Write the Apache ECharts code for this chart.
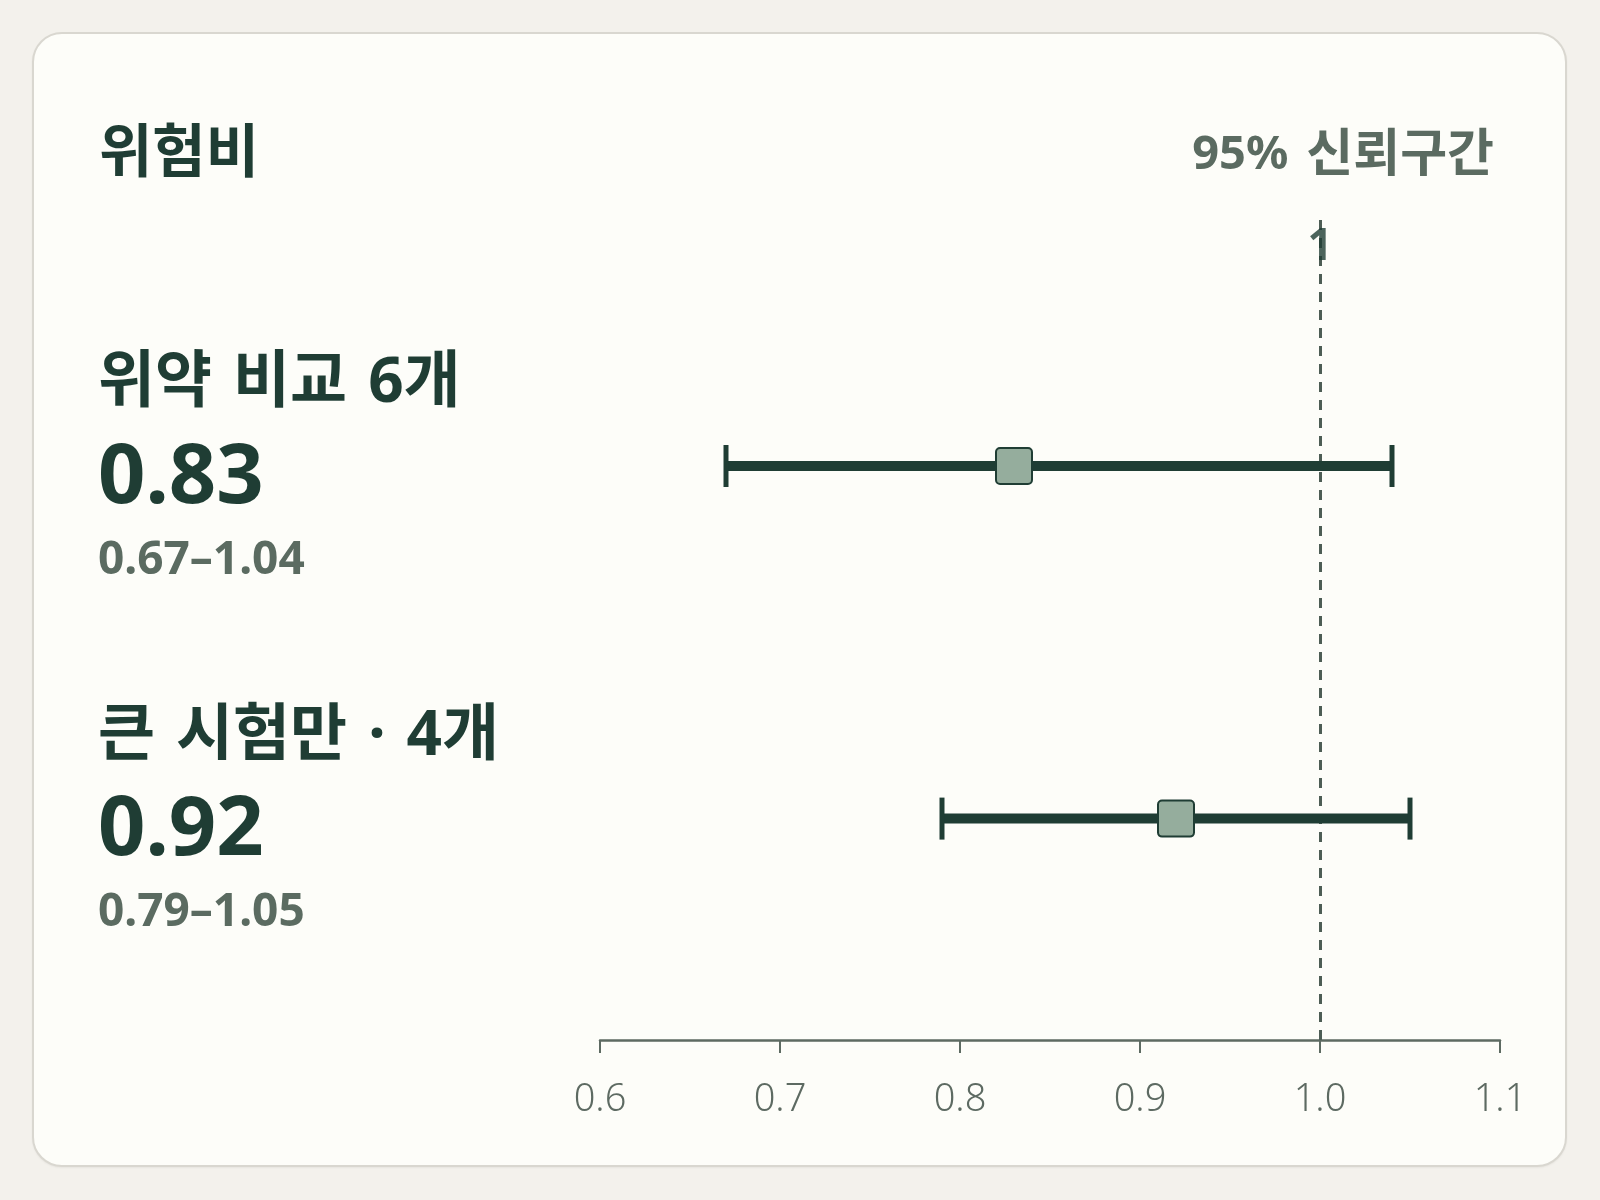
<!DOCTYPE html>
<html>
<head>
<meta charset="utf-8">
<script src="https://cdn.jsdelivr.net/npm/echarts@6/dist/echarts.min.js"></script>
<style>
  html, body { margin: 0; padding: 0; background: #f3f1ec; }
  #card { position: absolute; left: 32px; top: 32px; width: 1535px; height: 1135px; box-sizing: border-box;
          border: 2px solid #d9d7d0; border-radius: 30px; background: #fdfdf9; box-shadow: 0 1px 2px rgba(0,0,0,0.05); }
  #chart { position: absolute; left: 0; top: 0; width: 1600px; height: 1200px; }
</style>
</head>
<body>
<div id="card"></div>
<div id="chart"></div>
<script>
// ---- data ----
const rowLabels = ['위약 비교 6개', '큰 시험만 · 4개'];
const hazardRatio = [0.83, 0.92];
const ciLow = [0.67, 0.79];
const ciHigh = [1.04, 1.05];
const xTickValues = [0.6, 0.7, 0.8, 0.9, 1.0, 1.1];
const referenceValue = 1;
const titleText = '위험비';
const headerText = '95% 신뢰구간';

// ---- layout (y-axis units, 0 = axis, 100 = top of plot) ----
const rowPos = [70, 27];
const refLabelPos = 96.6;

const DARK = '#1f3d34';
const GREY = '#5b6b61';
const AXIS = '#5d6a62';
const FONT = "'Noto Sans', 'Noto Sans CJK KR', sans-serif";
const HANGUL = /[\uac00-\ud7a3]/;

// wrap words of a label in rich styles (latin / hangul), with a word-gap token
function spaced(text, latinStyle, hangulStyle, gapStyle) {
  return text.split(' ')
    .map(w => '{' + (HANGUL.test(w) ? hangulStyle : latinStyle) + '|' + w + '}')
    .join('{' + gapStyle + '| }');
}

const chart = echarts.init(document.getElementById('chart'), null, { renderer: 'canvas' });

function renderItem(params, api) {
  const y = api.value(0), lo = api.value(1), hi = api.value(2), m = api.value(3);
  const pLo = api.coord([lo, y]), pHi = api.coord([hi, y]), pM = api.coord([m, y]);
  const capH = 21, sq = 18;
  return {
    type: 'group',
    children: [
      { type: 'line', shape: { x1: pLo[0], y1: pLo[1], x2: pHi[0], y2: pHi[1] }, style: { stroke: DARK, lineWidth: 10 } },
      { type: 'line', shape: { x1: pLo[0], y1: pLo[1] - capH, x2: pLo[0], y2: pLo[1] + capH }, style: { stroke: DARK, lineWidth: 5 } },
      { type: 'line', shape: { x1: pHi[0], y1: pHi[1] - capH, x2: pHi[0], y2: pHi[1] + capH }, style: { stroke: DARK, lineWidth: 5 } },
      { type: 'rect', shape: { x: pM[0] - sq, y: pM[1] - sq, width: sq * 2, height: sq * 2, r: 4 }, style: { fill: '#95ad9d', stroke: DARK, lineWidth: 2 } }
    ]
  };
}

const option = {
  backgroundColor: 'transparent',
  animation: false,
  title: [
    { text: titleText, left: 99, top: 126, padding: 0,
      textStyle: { fontFamily: FONT, fontSize: 58, fontWeight: 'bold', color: DARK, lineHeight: 58 } },
    { text: spaced(headerText, 'h', 'k', 'g'), right: 106, top: 131, padding: 0,
      textStyle: { fontFamily: FONT, fontSize: 50, fontWeight: 'bold', color: GREY, lineHeight: 50,
        rich: {
          h: { fontFamily: FONT, fontSize: 47, fontWeight: 'bold', color: GREY, lineHeight: 50 },
          k: { fontFamily: FONT, fontSize: 51, fontWeight: 'bold', color: GREY, lineHeight: 50 },
          g: { fontFamily: FONT, fontSize: 47, width: 18, lineHeight: 50 }
        } } }
  ],
  grid: { left: 600, right: 100, top: 220, bottom: 160, containLabel: false },
  xAxis: {
    type: 'value', min: 0.6, max: 1.1, interval: 0.1,
    axisLine: { show: true, lineStyle: { color: AXIS, width: 2.5 } },
    axisTick: { show: true, length: 13, lineStyle: { color: AXIS, width: 2 }, customValues: xTickValues },
    axisLabel: { show: true, margin: 41, color: AXIS, fontFamily: FONT, fontSize: 38, fontWeight: 300,
                 customValues: xTickValues, formatter: v => v.toFixed(1) },
    splitLine: { show: false }
  },
  yAxis: {
    type: 'value', min: 0, max: 100,
    axisLine: { show: false }, axisTick: { show: false }, splitLine: { show: false },
    axisLabel: {
      show: true, customValues: rowPos, align: 'left', margin: 502,
      formatter: function (v) {
        const i = rowPos.indexOf(v);
        if (i < 0) return '';
        return spaced(rowLabels[i], 't', 't', 's') + '\n{n|' + hazardRatio[i].toFixed(2) + '}\n{r|' +
               ciLow[i].toFixed(2) + '–' + ciHigh[i].toFixed(2) + '}';
      },
      rich: {
        t: { fontFamily: FONT, fontSize: 62, fontWeight: 'bold', color: DARK, lineHeight: 89 },
        s: { fontFamily: FONT, fontSize: 62, width: 21, lineHeight: 89 },
        n: { fontFamily: FONT, fontSize: 83, fontWeight: 'bold', color: DARK, lineHeight: 100 },
        r: { fontFamily: FONT, fontSize: 46, fontWeight: 'bold', color: GREY, lineHeight: 63 }
      }
    }
  },
  series: [
    {
      type: 'custom', name: 'CI', renderItem: renderItem, z: 3,
      encode: { x: [1, 2, 3], y: 0 },
      data: rowLabels.map((_, i) => [rowPos[i], ciLow[i], ciHigh[i], hazardRatio[i]])
    },
    {
      type: 'scatter', name: 'ref', symbolSize: 0, z: 10,
      data: [[referenceValue, refLabelPos]],
      label: { show: true, position: 'inside', formatter: String(referenceValue),
               fontFamily: FONT, fontSize: 44, fontWeight: 'bold', color: DARK },
      markLine: {
        silent: true, symbol: ['none', 'none'], z: 1,
        label: { show: false },
        lineStyle: { type: [10, 8], color: '#4d5d55', width: 3 },
        data: [{ xAxis: referenceValue }]
      }
    }
  ]
};
chart.setOption(option);
</script>
</body>
</html>
